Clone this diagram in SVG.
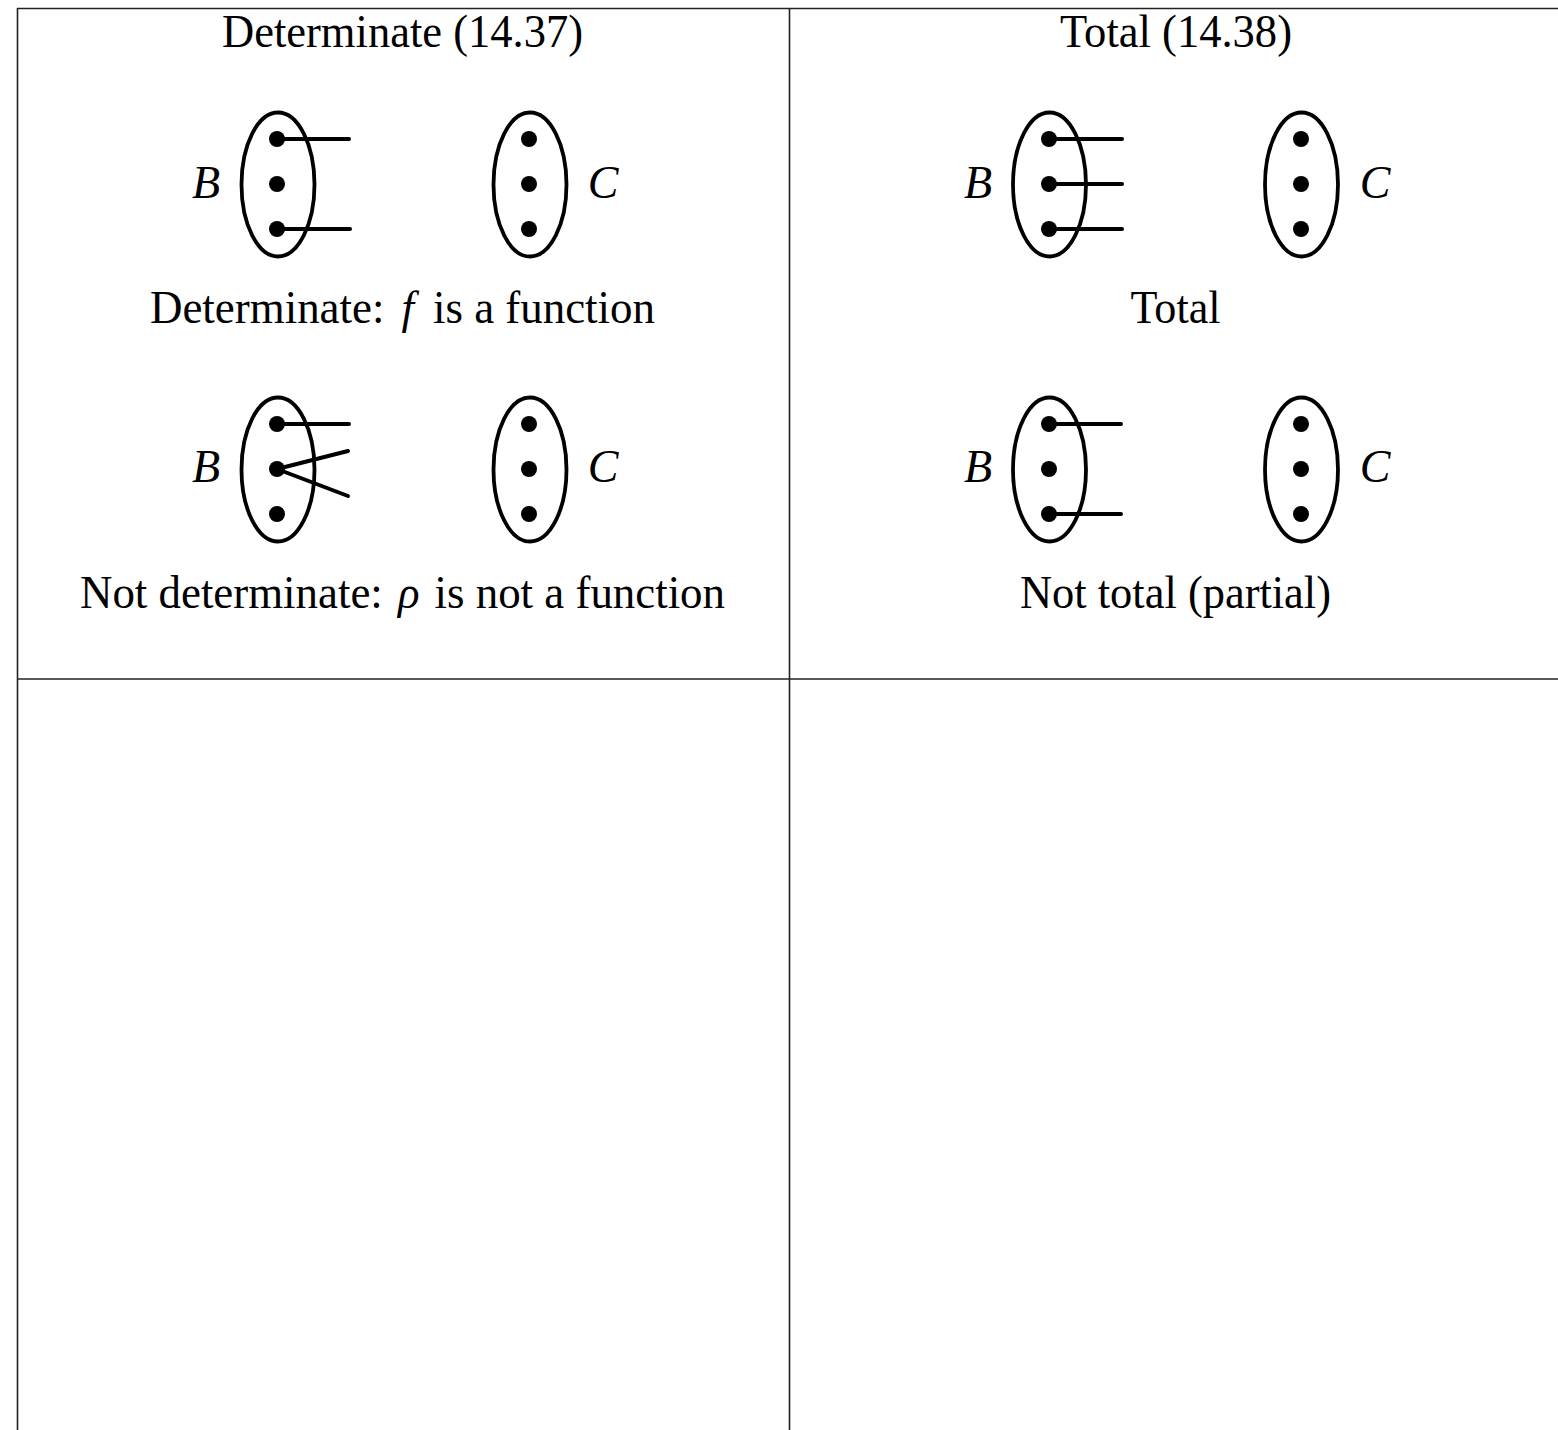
<svg xmlns="http://www.w3.org/2000/svg" width="1558" height="1430" viewBox="0 0 1558 1430">
<style>
.t{font-family:"Liberation Serif","Times New Roman",serif;font-size:46px;fill:#000;text-anchor:middle}
.it{font-style:italic}
.grid{stroke:#222;stroke-width:1.6;fill:none}
.set{fill:none;stroke:#000;stroke-width:3.8}
.e{stroke:#000;stroke-width:4;stroke-linecap:round;fill:none}
.d{fill:#000}
</style>
<defs>
<g id="dots"><circle class="d" cx="0" cy="-45" r="8"/><circle class="d" cx="0" cy="0" r="8"/><circle class="d" cx="0" cy="45" r="8"/></g>
</defs>
<g id="table">
<line class="grid" x1="17" y1="8.5" x2="1558" y2="8.5"/>
<line class="grid" x1="17.5" y1="8" x2="17.5" y2="1430"/>
<line class="grid" x1="789.5" y1="8" x2="789.5" y2="1430"/>
<line class="grid" x1="17" y1="679" x2="1558" y2="679"/>
</g>
<g id="titles">
<text class="t" x="402.5" y="47" textLength="361" lengthAdjust="spacingAndGlyphs">Determinate (14.37)</text>
<text class="t" x="1176" y="47" textLength="232" lengthAdjust="spacingAndGlyphs">Total (14.38)</text>
</g>
<g id="det-yes">
<text class="t it" x="206" y="198">B</text>
<ellipse class="set" cx="278" cy="184.5" rx="36.5" ry="72"/>
<use href="#dots" x="277" y="184"/>
<ellipse class="set" cx="530" cy="184.5" rx="36.5" ry="72"/>
<use href="#dots" x="529" y="184"/>
<text class="t it" x="603" y="198">C</text>
<text class="t" x="402.5" y="323" textLength="505" lengthAdjust="spacingAndGlyphs">Determinate: <tspan class="it" dx="6">f</tspan><tspan dx="8"> is a function</tspan></text>
</g>
<g id="det-no">
<text class="t it" x="206" y="482">B</text>
<ellipse class="set" cx="278" cy="469.5" rx="36.5" ry="72"/>
<use href="#dots" x="277" y="469"/>
<ellipse class="set" cx="530" cy="469.5" rx="36.5" ry="72"/>
<use href="#dots" x="529" y="469"/>
<text class="t it" x="603" y="482">C</text>
<text class="t" x="402.5" y="608" textLength="645" lengthAdjust="spacingAndGlyphs">Not determinate: <tspan class="it" dx="4">ρ</tspan><tspan dx="4"> is not a function</tspan></text>
</g>
<g id="tot-yes">
<text class="t it" x="978" y="198">B</text>
<ellipse class="set" cx="1049.5" cy="184.5" rx="36.5" ry="72"/>
<use href="#dots" x="1049" y="184"/>
<ellipse class="set" cx="1301.5" cy="184.5" rx="36.5" ry="72"/>
<use href="#dots" x="1301" y="184"/>
<text class="t it" x="1375" y="198">C</text>
<text class="t" x="1175.5" y="323" textLength="90" lengthAdjust="spacingAndGlyphs">Total</text>
</g>
<g id="tot-no">
<text class="t it" x="978" y="482">B</text>
<ellipse class="set" cx="1049.5" cy="469.5" rx="36.5" ry="72"/>
<use href="#dots" x="1049" y="469"/>
<ellipse class="set" cx="1301.5" cy="469.5" rx="36.5" ry="72"/>
<use href="#dots" x="1301" y="469"/>
<text class="t it" x="1375" y="482">C</text>
<text class="t" x="1175.5" y="608" textLength="311" lengthAdjust="spacingAndGlyphs">Not total (partial)</text>
</g>
<g id="connectors">
<line class="e" x1="277" y1="139" x2="349" y2="139"/>
<line class="e" x1="277" y1="229" x2="350" y2="229"/>
<line class="e" x1="277" y1="424" x2="349" y2="424"/>
<line class="e" x1="277" y1="469" x2="348" y2="451"/>
<line class="e" x1="277" y1="469" x2="348" y2="496"/>
<line class="e" x1="1049" y1="139" x2="1122" y2="139"/>
<line class="e" x1="1049" y1="184" x2="1122" y2="184"/>
<line class="e" x1="1049" y1="229" x2="1122" y2="229"/>
<line class="e" x1="1049" y1="424" x2="1121" y2="424"/>
<line class="e" x1="1049" y1="514" x2="1121" y2="514"/>
</g>
</svg>
